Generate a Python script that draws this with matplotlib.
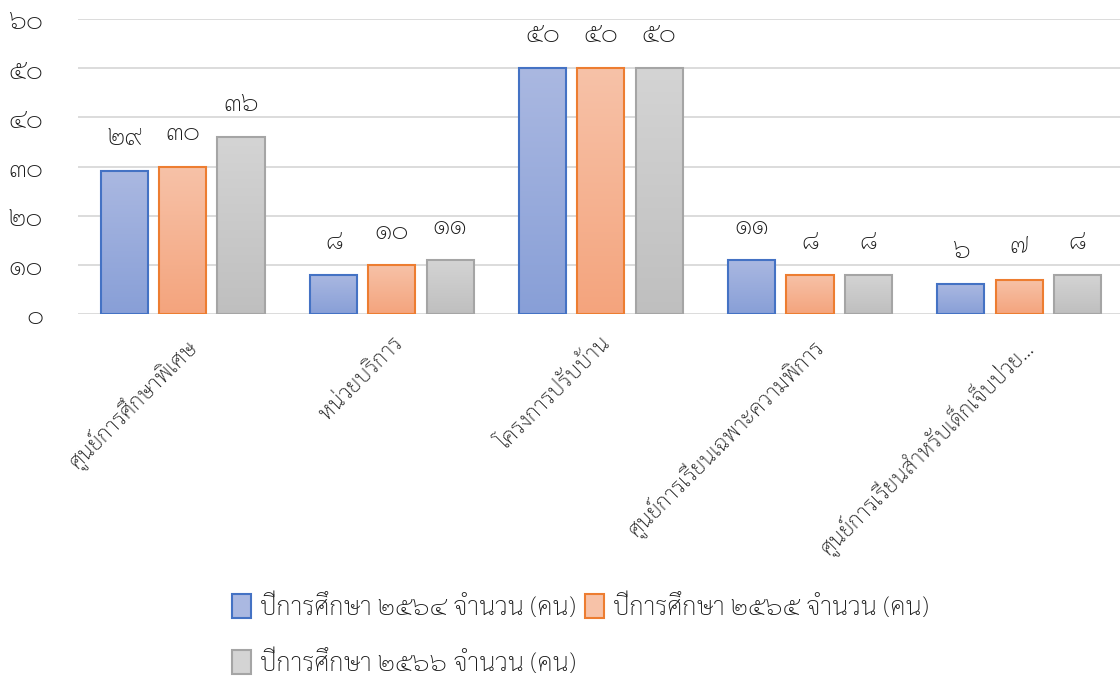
import numpy as np
import matplotlib
matplotlib.use("Agg")
import matplotlib.pyplot as plt
from matplotlib.colors import LinearSegmentedColormap
from matplotlib.patches import Patch

# ── data ────────────────────────────────────────────
categories = [
    "ศูนย์การศึกษาพิเศษ",
    "หน่วยบริการ",
    "โครงการปรับบ้าน",
    "ศูนย์การเรียนเฉพาะความพิการ",
    "ศูนย์การเรียนสำหรับเด็กเจ็บป่วย...",
]
series_names = [
    "ปีการศึกษา ๒๕๖๔ จำนวน (คน)",
    "ปีการศึกษา ๒๕๖๕ จำนวน (คน)",
    "ปีการศึกษา ๒๕๖๖ จำนวน (คน)",
]
values_2564 = [29, 8, 50, 11, 6]
values_2565 = [30, 10, 50, 8, 7]
values_2566 = [36, 11, 50, 8, 8]
y_ticks = [0, 10, 20, 30, 40, 50, 60]

# ── style ───────────────────────────────────────────
plt.rcParams["font.family"] = ["Sarabun", "DejaVu Sans"]
plt.rcParams["font.weight"] = "light"
TEXT = "#1a1a1a"
GRID = "#d9d9d9"
edges = ["#4472c4", "#ed7d31", "#a5a5a5"]
grad_top = ["#aab8e1", "#f7c2a8", "#d4d4d4"]
grad_bot = ["#889fd7", "#f4a47d", "#bfbfbf"]

THAI_DIGITS = str.maketrans("0123456789", "๐๑๒๓๔๕๖๗๘๙")


def thai(n):
    return str(n).translate(THAI_DIGITS)


fig = plt.figure(figsize=(11.2, 6.82), dpi=100)
ax = fig.add_axes([0.0696, 0.5396, 0.9304, 0.4325])

x = np.arange(len(categories))
bar_w = 0.225
step = 0.278
all_vals = [values_2564, values_2565, values_2566]

for i, vals in enumerate(all_vals):
    cmap = LinearSegmentedColormap.from_list(f"g{i}", [grad_bot[i], grad_top[i]])
    xs = x + (i - 1) * step
    bars = ax.bar(xs, vals, width=bar_w, facecolor="none",
                  edgecolor=edges[i], linewidth=1.5, zorder=3)
    for b, v in zip(bars, vals):
        x0 = b.get_x()
        grad = np.linspace(0, 1, 256).reshape(-1, 1)
        im = ax.imshow(grad, extent=[x0, x0 + bar_w, 0, v], origin="lower",
                       aspect="auto", cmap=cmap, zorder=2)
        im.set_clip_path(b)
        ax.annotate(thai(v), (b.get_x() + bar_w / 2, v), xytext=(0, 24),
                    textcoords="offset points", ha="center", va="center",
                    fontsize=19, color=TEXT)

ax.set_xlim(-0.502, 4.483)
ax.set_ylim(0, 60)
ax.set_yticks(y_ticks)
ax.set_yticklabels([thai(t) for t in y_ticks], fontsize=19, color=TEXT)
ax.set_xticks(x)
ax.set_xticklabels(categories, rotation=45, ha="right", rotation_mode="anchor",
                   fontsize=16, color=TEXT)
ax.tick_params(axis="y", length=0, pad=25)
ax.tick_params(axis="x", length=0, pad=14)
ax.yaxis.grid(True, color=GRID, linewidth=1.3, zorder=0)
ax.set_axisbelow(True)
for s in ax.spines.values():
    s.set_visible(False)

handles = [Patch(facecolor=grad_top[i], edgecolor=edges[i], linewidth=1.5)
           for i in range(3)]
order = [0, 2, 1]
fig.legend([handles[k] for k in order], [series_names[k] for k in order],
           ncol=2, loc="upper center", bbox_to_anchor=(0.518, 0.163),
           frameon=False, fontsize=18.5, handlelength=0.75, handleheight=1.05,
           handletextpad=0.35, columnspacing=0.35, labelspacing=1.15,
           labelcolor=TEXT)

fig.savefig("out.png", dpi=100)
